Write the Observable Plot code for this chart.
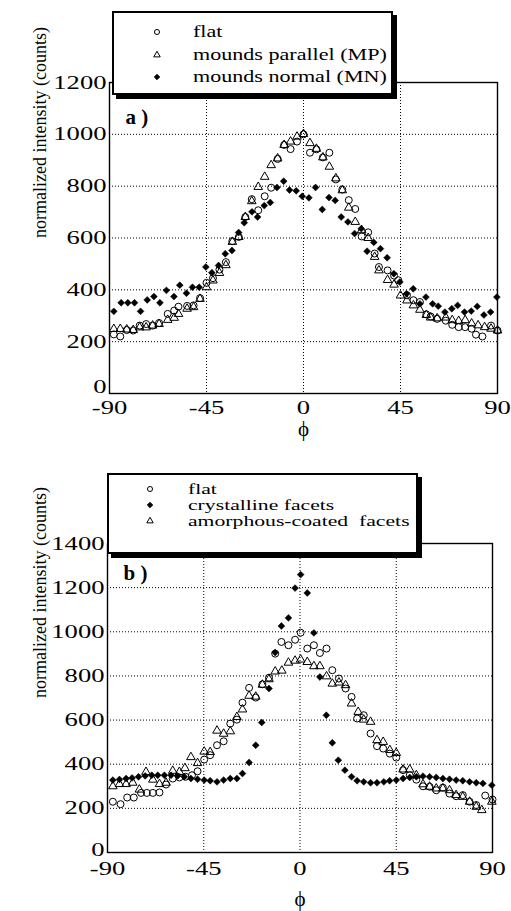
<!DOCTYPE html>
<html><head><meta charset="utf-8">
<script src="https://cdn.jsdelivr.net/npm/d3@7"></script>
<script src="https://cdn.jsdelivr.net/npm/@observablehq/plot@0.6"></script>
<style>
body{margin:0;background:#fff;}
#wrap{position:relative;width:511px;height:911px;background:#fff;overflow:hidden;}
#wrap > svg{position:absolute;left:0;}
</style></head><body><div id="wrap"></div>
<script>
// ---------- data ----------
const X_TICKS = [-90, -45, 0, 45, 90];
const Y_TICKS_A = [0, 200, 400, 600, 800, 1000, 1200];
const Y_TICKS_B = [0, 200, 400, 600, 800, 1000, 1200, 1400];

// panel a: flat
const flatA_phi = [-88,-85,-82,-79,-76,-73,-70,-67,-63,-60,-58,-54,-51,-48,-45,-42,-39,-36,-33,-30,-27,-24,-21,-18,-15,-12,-9,-6,-3,0,3,6,9,12,15,18,21,24,27,30,33,35,39,42,44,48,51,54,57,59,62,66,69,72,75,78,80,83,87,90];
const flatA_val = [228,220,245,243,262,268,262,272,307,320,335,338,340,368,427,445,478,507,588,604,681,750,707,761,794,905,959,943,972,1000,929,942,911,929,826,787,746,712,606,622,540,488,475,455,437,379,360,353,305,297,288,281,265,256,256,250,227,220,262,243];
// panel a: mounds parallel (MP)
const mpA_phi = [-88,-85,-82,-79,-76,-73,-70,-67,-63,-60,-58,-54,-51,-48,-45,-42,-39,-36,-33,-30,-27,-24,-21,-18,-15,-12,-9,-6,-3,0,3,6,9,12,15,18,21,24,27,30,33,35,39,42,45,48,51,54,57,59,62,66,69,72,75,78,81,84,87,90];
const mpA_val = [249,249,247,245,255,255,262,268,284,292,307,327,333,365,410,436,465,495,585,604,681,742,797,836,881,907,959,972,991,1001,966,944,911,875,830,784,717,662,630,600,527,475,438,420,378,359,340,323,303,293,290,293,283,280,283,270,263,256,250,243];
// panel a: mounds normal (MN)
const mnA_phi = [-88,-84.6,-81.5,-78.4,-75.6,-72.5,-69.4,-66.6,-63.6,-60.1,-57.4,-54.3,-51.5,-48.4,-45.3,-42.5,-39.4,-36.3,-33.2,-30.1,-27.5,-23.9,-21.3,-18.2,-15.4,-12.3,-9.2,-6.5,-3.4,-0.6,2.5,5.6,8.7,11.8,14.7,17.5,20.6,23.7,26.8,29.5,32.6,35.7,38.8,41.9,44.7,47.8,50.9,54,56.8,59.9,62.5,65.6,68.8,71.5,74.7,77.8,80.6,83.7,86.8,89.7];
const mnA_val = [317,350,350,350,317,361,374,350,398,374,418,387,410,410,488,466,494,539,552,621,659,701,681,725,737,795,819,785,782,761,755,795,710,756,745,681,662,617,636,549,583,559,524,462,430,385,404,346,372,346,337,314,327,340,314,318,336,303,314,372];

// panel b: flat
const flatB_phi = [-87.5,-83.9,-80.8,-77.7,-74.3,-71.6,-68.8,-65.7,-62.6,-59.5,-56.4,-53.5,-50.5,-47.9,-44.8,-42,-38.8,-35.7,-32.6,-29.5,-26.9,-23.8,-20.7,-17.6,-14.5,-11.6,-8.7,-5.4,-2.3,0.3,3.4,6.5,9.3,12.4,15.1,18.2,21.3,24.1,26.7,29.8,33,36,38.9,42,45,48.2,51.3,54.4,57.5,60.6,63.7,66.8,69.9,73,76.1,79.3,82.4,86.6,90];
const flatB_val = [230,219,249,249,270,270,270,272,308,335,340,343,350,368,421,441,486,504,584,602,679,746,702,762,792,901,954,939,964,996,924,939,904,924,826,788,743,705,607,622,539,482,471,448,430,373,350,330,300,298,282,294,267,255,260,230,215,258,240];
// panel b: crystalline facets
const crysB_phi = [-87.5,-84.4,-81.3,-78.5,-75.5,-72.4,-69.3,-66.5,-63.4,-60.3,-57.2,-54.1,-51,-47.9,-44.8,-42,-38.8,-35.7,-32.6,-29.5,-26.9,-23.8,-20.7,-17.9,-14.5,-11.6,-8.7,-5.4,-2.3,0.3,3.4,6.5,9.3,12.3,15.1,17.9,21,24.1,26.7,29.8,33,36,39.2,41.9,45,48.2,51.3,54.4,57.5,60.6,63.7,66.8,69.9,73,76.1,79.3,82.4,85.5,89.7];
const crysB_val = [328,331,335,338,343,347,350,350,350,350,347,343,335,332,328,325,320,328,335,335,358,408,486,589,743,906,1026,1063,1198,1259,1176,995,795,622,497,418,373,343,325,320,316,316,320,325,328,335,340,343,346,343,340,335,332,328,325,320,316,313,305];
// panel b: amorphous-coated facets
const amorB_phi = [-87.5,-84.4,-81.3,-78.2,-75.1,-72,-68.8,-65.7,-62.6,-59.5,-56.4,-53.8,-51,-47.9,-44.8,-42,-38.8,-35.7,-32.6,-29.5,-26.9,-23.8,-20.7,-17.6,-14.5,-11.6,-8.5,-5.4,-2.3,0.3,3.4,6.5,9.3,12.4,15.1,18.2,21.3,24.1,27.2,29.8,33,36,38.9,42,45,48.2,51.3,54.4,57.5,60.6,63.7,66.8,69.9,73,76.1,79.3,82.4,85,89.7];
const amorB_val = [300,310,310,316,285,365,330,310,316,370,365,382,432,405,457,455,552,538,549,614,648,710,706,760,785,820,824,860,869,874,863,844,844,798,765,770,758,675,637,602,592,509,501,464,451,376,376,350,309,298,290,290,282,260,252,230,207,192,230];

const LEGEND_A = ["flat", "mounds parallel (MP)", "mounds normal (MN)"];
const LEGEND_B = ["flat", "crystalline facets", "amorphous-coated  facets"];
const Y_LABEL = "normalized intensity (counts)";
const X_LABEL = "\u03d5";

// ---------- helpers ----------
const rows = (phi, val) => phi.map((p, i) => ({phi: p, v: val[i]}));
const FONT = "Liberation Serif, Times New Roman, serif";
const fmt = d => String(d);

function stretch(sel, s) {
  sel.each(function () {
    const tr = this.getAttribute("transform") || "";
    if (this.hasAttribute("x")) this.setAttribute("x", (+this.getAttribute("x")) / s);
    this.setAttribute("transform", (tr + ` scale(${s},1)`).trim());
  });
}

function panel(o) {
  const sym = {
    circle: d => Plot.dot(d, {x: "phi", y: "v", symbol: "circle", r: 3.5, stroke: "#000", strokeWidth: 1, fill: "none"}),
    triangle: d => Plot.dot(d, {x: "phi", y: "v", symbol: "triangle", r: 3.2, stroke: "#000", strokeWidth: 1, fill: "none"}),
    diamond: d => Plot.dot(d, {x: "phi", y: "v", symbol: "diamond2", r: 3.1, fill: "#000", stroke: "#000", strokeWidth: 0.5})
  };
  const yMax = o.yTicks[o.yTicks.length - 1];
  const svg = Plot.plot({
    width: 511, height: o.height,
    marginTop: o.mt, marginBottom: o.mb, marginLeft: o.ml, marginRight: o.mr,
    style: {fontFamily: FONT, fontSize: "19px", background: "transparent", color: "#000", overflow: "visible"},
    x: {domain: [-90, 90]},
    y: {domain: [0, yMax]},
    marks: [
      Plot.gridX(X_TICKS.slice(1, -1), {stroke: "#000", strokeOpacity: 1, strokeWidth: 1, strokeDasharray: "1,2"}),
      Plot.gridY(o.yTicks.slice(1, -1), {stroke: "#000", strokeOpacity: 1, strokeWidth: 1, strokeDasharray: "1,2"}),
      Plot.frame({stroke: "#000", strokeWidth: 1.4}),
      Plot.axisX(X_TICKS, {tickSize: 0, tickPadding: o.xPad, fontSize: 19, tickFormat: fmt, label: null}),
      Plot.axisY(o.yTicks.slice(1), {tickSize: 0, tickPadding: o.yPad, fontSize: 19, tickFormat: fmt, label: null}),
      Plot.axisY([0], {tickSize: 0, tickPadding: o.yPad, fontSize: 19, tickFormat: fmt, label: null, dy: o.zeroDy}),
      ...o.series.map(s => sym[s.symbol](s.data)),
      Plot.text([o.tag], {frameAnchor: "top-left", dx: 16, dy: o.tagDy, lineAnchor: "top", textAnchor: "start", fontWeight: "bold", fontSize: 21, ariaLabel: "stretch-text"}),
      Plot.text([X_LABEL], {frameAnchor: "bottom", dy: o.phiDy, lineAnchor: "middle", fontSize: 21, ariaLabel: "phi-label"}),
      Plot.text([Y_LABEL], {frameAnchor: "left", dx: o.ylDx, rotate: -90, lineAnchor: "middle", fontSize: 18, ariaLabel: "stretch-ylabel"})
    ]
  });
  const d3s = d3.select(svg);
  stretch(d3s.selectAll('g[aria-label="x-axis tick label"] text'), 1.4);
  stretch(d3s.selectAll('g[aria-label="y-axis tick label"] text'), 1.4);
  stretch(d3s.selectAll('g[aria-label="stretch-ylabel"] text'), 1.22);
  stretch(d3s.selectAll('g[aria-label="stretch-text"] text'), 1.1);
  svg.style.top = o.top + "px";
  return svg;
}

const wrap = document.getElementById("wrap");

wrap.appendChild(panel({
  top: 0, height: 455, mt: 82, mb: 62, ml: 109, mr: 14,
  yTicks: Y_TICKS_A, xPad: 7, yPad: 3, zeroDy: -7, tag: "a )", tagDy: 27, phiDy: 36, ylDx: -69,
  series: [
    {symbol: "circle", data: rows(flatA_phi, flatA_val)},
    {symbol: "triangle", data: rows(mpA_phi, mpA_val)},
    {symbol: "diamond", data: rows(mnA_phi, mnA_val)}
  ]
}));

wrap.appendChild(panel({
  top: 455, height: 456, mt: 88, mb: 59, ml: 107, mr: 19,
  yTicks: Y_TICKS_B, xPad: 9, yPad: 3, zeroDy: -3, tag: "b )", tagDy: 22, phiDy: 47, ylDx: -67,
  series: [
    {symbol: "circle", data: rows(flatB_phi, flatB_val)},
    {symbol: "triangle", data: rows(amorB_phi, amorB_val)},
    {symbol: "diamond", data: rows(crysB_phi, crysB_val)}
  ]
}));

// ---------- legends ----------
const lg = d3.select(wrap).append("svg").attr("width", 511).attr("height", 911).style("top", "0px")
  .style("font-family", FONT);

function legend(box, items, symX, textX, baselines, fontSize, s) {
  lg.append("rect").attr("x", box.x + 4).attr("y", box.y + 4).attr("width", box.w).attr("height", box.h).attr("fill", "#000");
  lg.append("rect").attr("x", box.x + 1).attr("y", box.y + 1).attr("width", box.w - 2).attr("height", box.h - 2)
    .attr("fill", "#fff").attr("stroke", "#000").attr("stroke-width", 2);
  items.forEach((it, i) => {
    const y = baselines[i];
    const type = {circle: d3.symbolCircle, triangle: d3.symbolTriangle, diamond: d3.symbolDiamond2}[it.symbol];
    lg.append("path").attr("d", d3.symbol(type, it.symbol === "circle" ? 20 : 18)())
      .attr("transform", `translate(${symX},${y - 5})`)
      .attr("fill", it.symbol === "diamond" ? "#000" : "none").attr("stroke", "#000").attr("stroke-width", 1);
    lg.append("text").attr("transform", `translate(${textX},${y}) scale(${s},1)`)
      .attr("font-size", fontSize).attr("fill", "#000").style("white-space", "pre").text(it.label);
  });
}

legend({x: 112, y: 11, w: 281, h: 84},
  [{symbol: "circle", label: LEGEND_A[0]}, {symbol: "triangle", label: LEGEND_A[1]}, {symbol: "diamond", label: LEGEND_A[2]}],
  157, 193, [37, 60, 82], 17, 1.3);

legend({x: 107, y: 473, w: 311, h: 81},
  [{symbol: "circle", label: LEGEND_B[0]}, {symbol: "diamond", label: LEGEND_B[1]}, {symbol: "triangle", label: LEGEND_B[2]}],
  150, 188, [494, 510, 526], 15.5, 1.4);
</script></body></html>
